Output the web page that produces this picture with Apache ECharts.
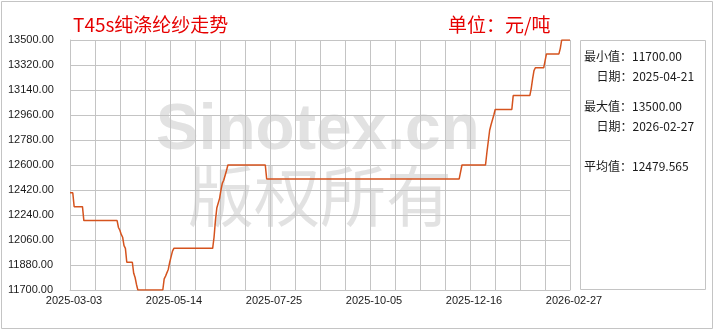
<!DOCTYPE html>
<html><head><meta charset="utf-8">
<script src="https://cdn.jsdelivr.net/npm/echarts@6/dist/echarts.min.js"></script>
<style>html,body{margin:0;padding:0;background:#fff}#c{width:720px;height:330px}</style>
</head><body><div id="c"></div>
<script>
const titleText = 'T45s纯涤纶纱走势';
const unitText = '单位：元/吨';
const startDate = '2025-03-03';
const endDate = '2026-02-27';
const dates = ['2025-03-03','2025-03-05','2025-03-06','2025-03-12','2025-03-13','2025-04-06','2025-04-07','2025-04-08','2025-04-09','2025-04-10','2025-04-11','2025-04-12','2025-04-13','2025-04-17','2025-04-18','2025-04-19','2025-04-20','2025-04-21','2025-05-09','2025-05-10','2025-05-11','2025-05-12','2025-05-13','2025-05-14','2025-05-15','2025-05-16','2025-05-17','2025-06-14','2025-06-15','2025-06-16','2025-06-17','2025-06-18','2025-06-19','2025-06-20','2025-06-21','2025-06-22','2025-06-23','2025-06-24','2025-06-25','2025-07-22','2025-07-23','2025-12-09','2025-12-11','2025-12-28','2025-12-29','2025-12-31','2026-01-01','2026-01-02','2026-01-03','2026-01-04','2026-01-16','2026-01-17','2026-01-29','2026-01-30','2026-01-31','2026-02-01','2026-02-02','2026-02-08','2026-02-09','2026-02-10','2026-02-19','2026-02-20','2026-02-21','2026-02-27'];
const values = [12400,12400,12300,12300,12200,12200,12150,12130,12100,12080,12020,12000,11900,11900,11820,11790,11740,11700,11700,11780,11800,11800,11850,11900,11940,11980,12000,12000,12080,12200,12290,12300,12360,12420,12470,12490,12500,12560,12600,12600,12500,12500,12600,12600,12690,12850,12890,12900,12960,13000,13000,13100,13100,13150,13220,13280,13300,13300,13350,13400,13400,13440,13500,13500];
const yMin = 11700, yMax = 13500, yStep = 180;
const xDivisions = 20, xLabelEvery = 4;
const statLines = ['最小值：11700.00', '日期：2025-04-21', '最大值：13500.00', '日期：2026-02-27', '平均值：12479.565'];
const watermark1 = 'Sinotex.cn';
const watermark2 = '版权所有';

const DAY = 86400000;
const t0 = Date.parse(startDate + 'T00:00:00Z');
const span = Math.round((Date.parse(endDate + 'T00:00:00Z') - t0) / DAY);
const dayOf = d => Math.round((Date.parse(d + 'T00:00:00Z') - t0) / DAY);
const seriesData = dates.map((d, i) => [dayOf(d), values[i]]);
const xStep = +(span / xDivisions).toFixed(4);
function fmtDay(v) {
  const dt = new Date(t0 + Math.floor(v + 1e-6) * DAY);
  const p = n => String(n).padStart(2, '0');
  return dt.getUTCFullYear() + '-' + p(dt.getUTCMonth() + 1) + '-' + p(dt.getUTCDate());
}
const grid = { left: 70, right: 150, top: 40, bottom: 40 };
const gridColor = '#c4c4c4';
const txt = '#1a1a1a';
const numFont = '"Liberation Sans", Arial, sans-serif';
const cjkFont = '"Noto Sans CJK SC", sans-serif';

const chart = echarts.init(document.getElementById('c'), null, { renderer: 'canvas' });
const panelY = [56, 76, 106, 126.5, 166.5];
const panelX = [584, 596.5, 584, 596.5, 584];
chart.setOption({
  animation: false,
  backgroundColor: '#fff',
  grid: grid,
  xAxis: {
    type: 'value', min: 0, max: span, interval: xStep,
    axisLine: { show: true, lineStyle: { color: gridColor, width: 1 } },
    axisTick: { show: false },
    splitLine: { show: true, lineStyle: { color: gridColor, width: 1 } },
    axisLabel: {
      color: txt, fontSize: 11, fontFamily: numFont, margin: 5, padding: [0, 0, 0, 8],
      showMinLabel: true, showMaxLabel: true, hideOverlap: false,
      formatter: function (v) {
        const k = Math.round(v / xStep);
        return k % xLabelEvery === 0 ? fmtDay(v) : '';
      }
    }
  },
  yAxis: {
    type: 'value', min: yMin, max: yMax, interval: yStep,
    axisLine: { show: true, lineStyle: { color: gridColor, width: 1 } },
    axisTick: { show: false },
    splitLine: { show: true, lineStyle: { color: gridColor, width: 1 } },
    axisLabel: {
      color: txt, fontSize: 11, fontFamily: numFont, align: 'left', margin: 62,
      padding: [0, 0, 7, 0], showMinLabel: true, showMaxLabel: true,
      formatter: v => v.toFixed(2)
    }
  },
  series: [{
    type: 'line', data: seriesData, showSymbol: false, symbol: 'none',
    lineStyle: { color: '#d5531e', width: 1.5 }, z: 5
  }],
  graphic: [
    { type: 'text', z: -10, left: 156, top: 99, style: { text: watermark1, font: 'bold 64px "Liberation Sans", Arial, sans-serif', fill: '#e2e2e2' } },
    { type: 'text', z: -10, left: 188, top: 163, style: { text: watermark2, font: '66px ' + cjkFont, fill: '#e2e2e2' } },
    { type: 'rect', shape: { x: 1.5, y: 1.5, width: 711, height: 327 }, style: { fill: null, stroke: '#c4c4c4', lineWidth: 1 } },
    { type: 'rect', shape: { x: 580.5, y: 40.5, width: 125, height: 249 }, style: { fill: null, stroke: '#c4c4c4', lineWidth: 1 } },
    { type: 'text', x: 73, y: 24.5, style: { text: titleText, font: '19px ' + cjkFont, fill: '#e60000', verticalAlign: 'middle' } },
    { type: 'text', x: 448, y: 24.5, style: { text: unitText, font: '19px ' + cjkFont, fill: '#e60000', verticalAlign: 'middle' } }
  ].concat(statLines.map((s, i) => ({
    type: 'text', x: panelX[i], y: panelY[i],
    style: { text: s, font: '12px ' + cjkFont, fill: txt, verticalAlign: 'middle' }
  })))
});
</script></body></html>
